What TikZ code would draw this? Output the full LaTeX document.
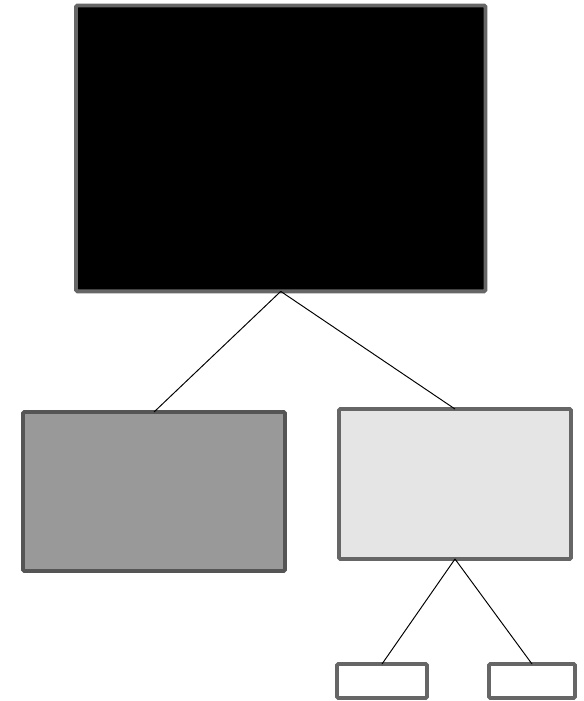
\documentclass[tikz,border=0pt]{standalone}
\usepackage{tikz}
\usetikzlibrary{positioning}

\definecolor{boxline}{HTML}{666666}
\definecolor{darkline}{HTML}{555555}
\definecolor{midfill}{HTML}{999999}
\definecolor{lightfill}{HTML}{E5E5E5}

\tikzset{
    box/.style={draw=boxline, line width=2.2pt, rectangle, rounded corners=0.8pt,
        inner sep=0pt, outer sep=0pt},
    link/.style={black, line width=0.55pt}
}

\begin{document}
\begin{tikzpicture}[x=0.02cm, y=-0.02cm]
    \useasboundingbox (0,0) rectangle (583,701);
    \node [box, fill=black, minimum width=8.19cm, minimum height=5.72cm] (root) at (280.75,148.4) {};
    \node [box, draw=darkline, fill=midfill, minimum width=5.24cm, minimum height=3.18cm] (left) at (154,491.5) {};
    \node [box, fill=lightfill, minimum width=4.64cm, minimum height=3.0cm] (right) at (455,484) {};
    \node [box, fill=white, minimum width=1.8cm, minimum height=0.68cm] (leafa) at (382,681) {};
    \node [box, fill=white, minimum width=1.72cm, minimum height=0.68cm] (leafb) at (532,681) {};
    \draw[link] (root.south) -- (left.north);
    \draw[link] (root.south) -- (right.north);
    \draw[link] (right.south) -- (leafa.north);
    \draw[link] (right.south) -- (leafb.north);
\end{tikzpicture}
\end{document}
